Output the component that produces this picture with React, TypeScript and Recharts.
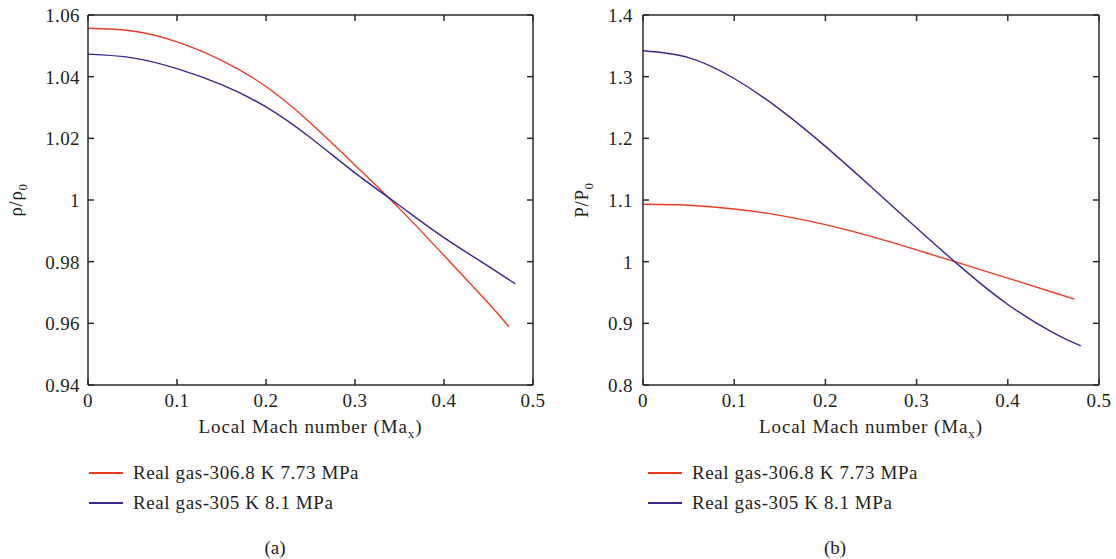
import { LineChart, Line, XAxis, YAxis, Label } from "recharts"

const machRed = [0, 0.05, 0.1, 0.15, 0.2, 0.25, 0.3, 0.35, 0.4, 0.45, 0.473]
const machBlue = [0, 0.05, 0.1, 0.15, 0.2, 0.25, 0.3, 0.35, 0.4, 0.45, 0.48]

// (a) density ratio
const densityRed = [1.0557, 1.0548, 1.0513, 1.0453, 1.0368, 1.025, 1.0113, 0.9972, 0.982, 0.9665, 0.9589]
const densityBlue = [1.0473, 1.0461, 1.0426, 1.0374, 1.0302, 1.0202, 1.0088, 0.9982, 0.9878, 0.9785, 0.9728]

// (b) pressure ratio
const pressureRed = [1.093, 1.0915, 1.0855, 1.075, 1.06, 1.041, 1.019, 0.9963, 0.9733, 0.95, 0.9392]
const pressureBlue = [1.342, 1.331, 1.297, 1.247, 1.187, 1.1215, 1.0545, 0.9895, 0.9305, 0.8845, 0.8635]

const machTicks = [0, 0.1, 0.2, 0.3, 0.4, 0.5]
const densityTicks = [0.94, 0.96, 0.98, 1, 1.02, 1.04, 1.06]
const pressureTicks = [0.8, 0.9, 1, 1.1, 1.2, 1.3, 1.4]

const seriesNames = ["Real gas-306.8 K 7.73 MPa", "Real gas-305 K 8.1 MPa"]
const seriesColors = ["#ef3b25", "#352a8e"]

const FONT = "'Liberation Serif', 'Times New Roman', serif"
const INK = "#231f20"
const AXIS = { stroke: "#2b2b2b", strokeWidth: 1.5 }
const TICK_LEN = 6

const toPoints = (xs: number[], ys: number[]) => xs.map((x, i) => ({ x, y: ys[i] }))
const fmt = (v: number) => String(Number(v.toFixed(2)))

// mirror axes: recharts hands us the inner end of each tick, we draw the mark + label
function BottomTick(p: any) {
  return (
    <g>
      <line x1={p.x} y1={p.y} x2={p.x} y2={p.y + TICK_LEN} {...AXIS} />
      <text x={p.x} y={p.y + 28} textAnchor="middle" fontFamily={FONT} fontSize={19} letterSpacing={0.4} fill={INK}>
        {fmt(p.payload.value)}
      </text>
    </g>
  )
}

function TopTick(p: any) {
  return <line x1={p.x} y1={p.y - TICK_LEN} x2={p.x} y2={p.y} {...AXIS} />
}

function RightTick(p: any) {
  return <line x1={p.x} y1={p.y} x2={p.x + TICK_LEN} y2={p.y} {...AXIS} />
}

function makeLeftTick(gap: number) {
  return (p: any) => (
    <g>
      <line x1={p.x - TICK_LEN} y1={p.y} x2={p.x} y2={p.y} {...AXIS} />
      <text x={p.x - TICK_LEN - gap} y={p.y} dy="0.36em" textAnchor="end" fontFamily={FONT} fontSize={19} letterSpacing={0.4} fill={INK}>
        {fmt(p.payload.value)}
      </text>
    </g>
  )
}

function Panel(props: any) {
  const { left, yDomain, yTicks, red, blue, yMain, yLabelShift, marginLeft, marginRight, labelGap, legendX, caption, captionX } = props
  const W = 558
  const H = 559
  const redPts = toPoints(machRed, red)
  const bluePts = toPoints(machBlue, blue)
  return (
    <div style={{ position: "absolute", left, top: 0, width: W, height: H }}>
      <LineChart width={W} height={H} margin={{ top: 15, right: marginRight, bottom: 174, left: marginLeft }}>
        <XAxis
          dataKey="x"
          type="number"
          domain={[0, 0.5]}
          ticks={machTicks}
          height={1}
          mirror
          tickSize={TICK_LEN}
          tickMargin={0}
          axisLine={AXIS}
          tickLine={false}
          tick={BottomTick}
          allowDataOverflow
        >
          <Label
            content={({ viewBox }: any) => {
              const { x, y, width } = viewBox
              return (
                <text x={x + width / 2} y={y + 49} textAnchor="middle" fontFamily={FONT} fontSize={19} letterSpacing={0.9} fill={INK}>
                  Local Mach number (Ma
                  <tspan fontSize={13} dy={5}>x</tspan>
                  <tspan dy={-5}>)</tspan>
                </text>
              )
            }}
          />
        </XAxis>
        <XAxis
          xAxisId="top"
          dataKey="x"
          orientation="top"
          type="number"
          domain={[0, 0.5]}
          ticks={machTicks}
          height={1}
          mirror
          tick={TopTick}
          tickSize={TICK_LEN}
          tickMargin={0}
          axisLine={AXIS}
          tickLine={false}
          allowDataOverflow
        />
        <YAxis
          type="number"
          domain={yDomain}
          ticks={yTicks}
          width={1}
          mirror
          tickSize={TICK_LEN}
          tickMargin={0}
          axisLine={AXIS}
          tickLine={false}
          tick={makeLeftTick(labelGap)}
          allowDataOverflow
        >
          <Label
            content={({ viewBox }: any) => {
              const { x, y, height } = viewBox
              const cx = x + yLabelShift
              const cy = y + height / 2
              return (
                <text
                  transform={`translate(${cx},${cy}) rotate(-90)`}
                  textAnchor="middle"
                  fontFamily={FONT}
                  fontSize={19}
                  letterSpacing={0.6}
                  fill={INK}
                >
                  {yMain}/{yMain}
                  <tspan fontSize={13} dy={5}>0</tspan>
                </text>
              )
            }}
          />
        </YAxis>
        <YAxis
          yAxisId="right"
          orientation="right"
          type="number"
          domain={yDomain}
          ticks={yTicks}
          width={1}
          mirror
          tick={RightTick}
          tickSize={TICK_LEN}
          tickMargin={0}
          axisLine={AXIS}
          tickLine={false}
          allowDataOverflow
        />
        {/* invisible copy so the frame axes (top/right) have a series */}
        <Line
          data={redPts}
          dataKey="y"
          xAxisId="top"
          yAxisId="right"
          stroke="none"
          dot={false}
          activeDot={false}
          legendType="none"
          isAnimationActive={false}
        />
        <Line
          data={redPts}
          dataKey="y"
          type="natural"
          stroke={seriesColors[0]}
          strokeWidth={1.4}
          dot={false}
          isAnimationActive={false}
        />
        <Line
          data={bluePts}
          dataKey="y"
          type="natural"
          stroke={seriesColors[1]}
          strokeWidth={1.4}
          dot={false}
          isAnimationActive={false}
        />
      </LineChart>
      {seriesNames.map((name, i) => (
        <div
          key={name}
          style={{
            position: "absolute",
            left: legendX,
            top: 462 + i * 30,
            height: 22,
            display: "flex",
            alignItems: "center",
            fontFamily: FONT,
            fontSize: 19,
            letterSpacing: 0.6,
            color: INK,
            whiteSpace: "nowrap",
          }}
        >
          <span style={{ display: "inline-block", width: 34, height: 1.5, background: seriesColors[i], marginRight: 10 }} />
          {name}
        </div>
      ))}
      <div
        style={{
          position: "absolute",
          left: captionX - 30,
          width: 60,
          top: 537,
          height: 22,
          lineHeight: "22px",
          textAlign: "center",
          fontFamily: FONT,
          fontSize: 19,
          color: INK,
        }}
      >
        {caption}
      </div>
    </div>
  )
}

export default function App() {
  return (
    <div style={{ position: "absolute", left: 0, top: 0, width: 1116, height: 559, background: "#fff" }}>
      <Panel
        left={0}
        yDomain={[0.94, 1.06]}
        yTicks={densityTicks}
        red={densityRed}
        blue={densityBlue}
        yMain="ρ"
        yLabelShift={-66}
        marginLeft={88}
        marginRight={25}
        labelGap={8}
        legendX={89}
        caption="(a)"
        captionX={275}
      />
      <Panel
        left={558}
        yDomain={[0.8, 1.4]}
        yTicks={pressureTicks}
        red={pressureRed}
        blue={pressureBlue}
        yMain="P"
        yLabelShift={-55}
        marginLeft={85}
        marginRight={17}
        labelGap={10}
        legendX={90}
        caption="(b)"
        captionX={277}
      />
    </div>
  )
}
